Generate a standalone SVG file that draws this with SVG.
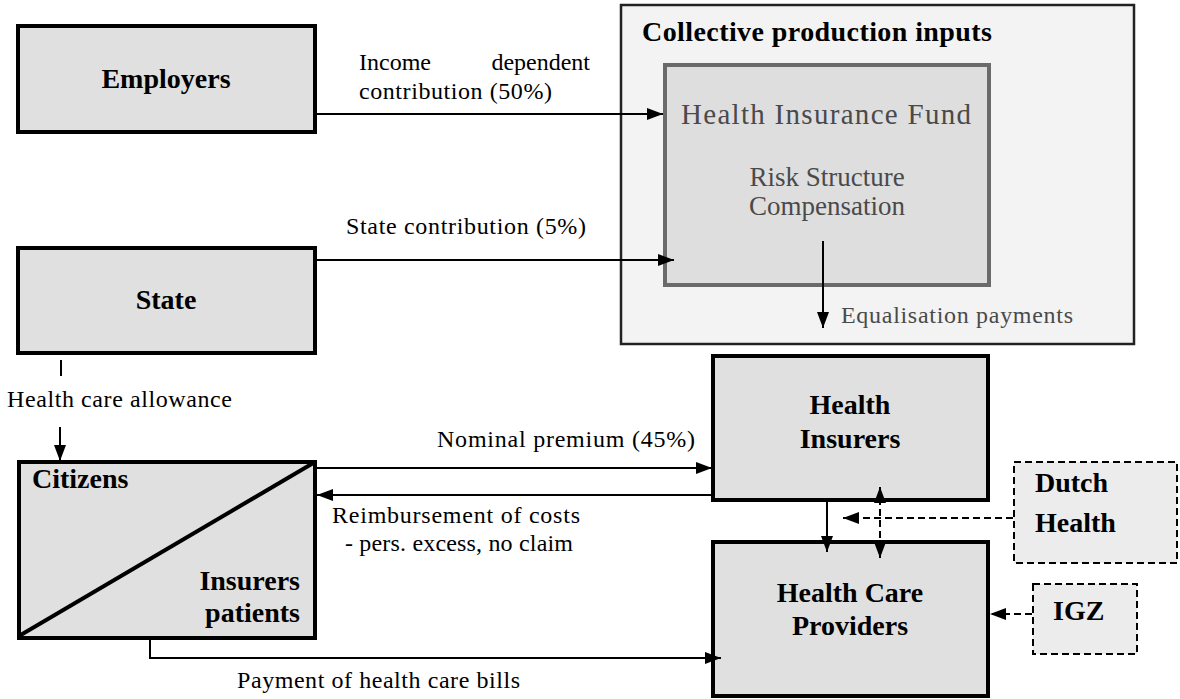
<svg xmlns="http://www.w3.org/2000/svg" width="1180" height="699" viewBox="0 0 1180 699">
<defs>
<marker id="ah" markerUnits="userSpaceOnUse" markerWidth="16" markerHeight="12" viewBox="0 0 16 12" refX="16" refY="6" orient="auto-start-reverse">
<path d="M0,0 L16,6 L0,12 z" fill="#000"/>
</marker>
</defs>
<style>
.box{fill:#e0e0e0;stroke:#000;stroke-width:4}
.dbox{fill:#ececec;stroke:#000;stroke-width:2;stroke-dasharray:7 4}
.t{font-family:"Liberation Serif",serif;font-size:24px;fill:#000}
.b{font-family:"Liberation Serif",serif;font-weight:bold;font-size:28px;fill:#000}
.g{font-family:"Liberation Serif",serif;fill:#4a4a4a}
.c{stroke:#000;stroke-width:2;fill:none}
.d{stroke:#000;stroke-width:2;fill:none;stroke-dasharray:7 4}
</style>
<rect width="1180" height="699" fill="#fff"/>

<g id="collective">
<rect x="621" y="5" width="513" height="339" fill="#f3f3f3" stroke="#222" stroke-width="2.5"/>
<text class="b" x="642" y="41" font-size="26" textLength="350">Collective production inputs</text>
</g>

<g id="fund">
<rect x="665" y="65" width="324" height="220" fill="#dedede" stroke="#6a6a6a" stroke-width="4"/>
<text class="g" x="681" y="124" font-size="29" textLength="290">Health Insurance Fund</text>
<text class="g" x="827" y="186" font-size="27" text-anchor="middle">Risk Structure</text>
<text class="g" x="827" y="215" font-size="27" text-anchor="middle">Compensation</text>
<text class="g" x="841" y="323" font-size="24" textLength="232">Equalisation payments</text>
</g>

<g id="employers">
<rect class="box" x="18" y="26" width="297" height="106"/>
<text class="b" x="166" y="88" text-anchor="middle">Employers</text>
</g>

<g id="state">
<rect class="box" x="18" y="248" width="297" height="105"/>
<text class="b" x="166" y="309" text-anchor="middle">State</text>
</g>

<g id="citizens">
<rect class="box" x="19" y="462" width="296" height="176"/>
<line x1="19" y1="636" x2="315" y2="462" stroke="#000" stroke-width="4"/>
<text class="b" x="32" y="488">Citizens</text>
<text class="b" x="300" y="590" text-anchor="end">Insurers</text>
<text class="b" x="300" y="622" text-anchor="end">patients</text>
</g>

<g id="insurers">
<rect class="box" x="713" y="356" width="275" height="144"/>
<text class="b" x="850" y="414" text-anchor="middle">Health</text>
<text class="b" x="850" y="448" text-anchor="middle">Insurers</text>
</g>

<g id="providers">
<rect class="box" x="713" y="542" width="275" height="154"/>
<text class="b" x="850" y="602" text-anchor="middle">Health Care</text>
<text class="b" x="850" y="635" text-anchor="middle">Providers</text>
</g>

<g id="dutch">
<rect class="dbox" x="1014" y="462" width="163" height="101"/>
<text class="b" x="1035" y="492" font-size="23">Dutch</text>
<text class="b" x="1035" y="532" font-size="23">Health</text>
</g>

<g id="igz">
<rect class="dbox" x="1033" y="584" width="104" height="70"/>
<text class="b" x="1053" y="620" font-size="31">IGZ</text>
</g>

<g id="connectors">
<line class="c" x1="317" y1="114" x2="663" y2="114" marker-end="url(#ah)"/>
<text class="t" x="359" y="70">Income</text>
<text class="t" x="590" y="70" text-anchor="end">dependent</text>
<text class="t" x="359" y="99" textLength="193">contribution (50%)</text>

<line class="c" x1="317" y1="260" x2="674" y2="260" marker-end="url(#ah)"/>
<text class="t" x="346" y="234" textLength="240">State contribution (5%)</text>

<line class="c" x1="823" y1="241" x2="823" y2="328" marker-end="url(#ah)"/>

<line class="c" x1="61" y1="360" x2="61" y2="376"/>
<text class="t" x="7" y="407" textLength="225">Health care allowance</text>
<line class="c" x1="60" y1="427" x2="60" y2="461" marker-end="url(#ah)"/>

<line class="c" x1="316" y1="468" x2="712" y2="468" marker-end="url(#ah)"/>
<text class="t" x="437" y="447" textLength="258">Nominal premium (45%)</text>

<line class="c" x1="713" y1="495" x2="317" y2="495" marker-end="url(#ah)"/>
<text class="t" x="332" y="523" textLength="248">Reimbursement of costs</text>
<text class="t" x="345" y="551" textLength="228">- pers. excess, no claim</text>

<line class="c" x1="827" y1="502" x2="827" y2="552" marker-end="url(#ah)"/>
<line class="d" x1="880" y1="487" x2="880" y2="558" marker-start="url(#ah)" marker-end="url(#ah)"/>
<line class="d" x1="1013" y1="518" x2="843" y2="518" marker-end="url(#ah)"/>
<line class="d" x1="1032" y1="614" x2="990" y2="614" marker-end="url(#ah)"/>

<polyline class="c" points="150,640 150,658 721,658" marker-end="url(#ah)"/>
<text class="t" x="237" y="688" textLength="283">Payment of health care bills</text>
</g>
</svg>
